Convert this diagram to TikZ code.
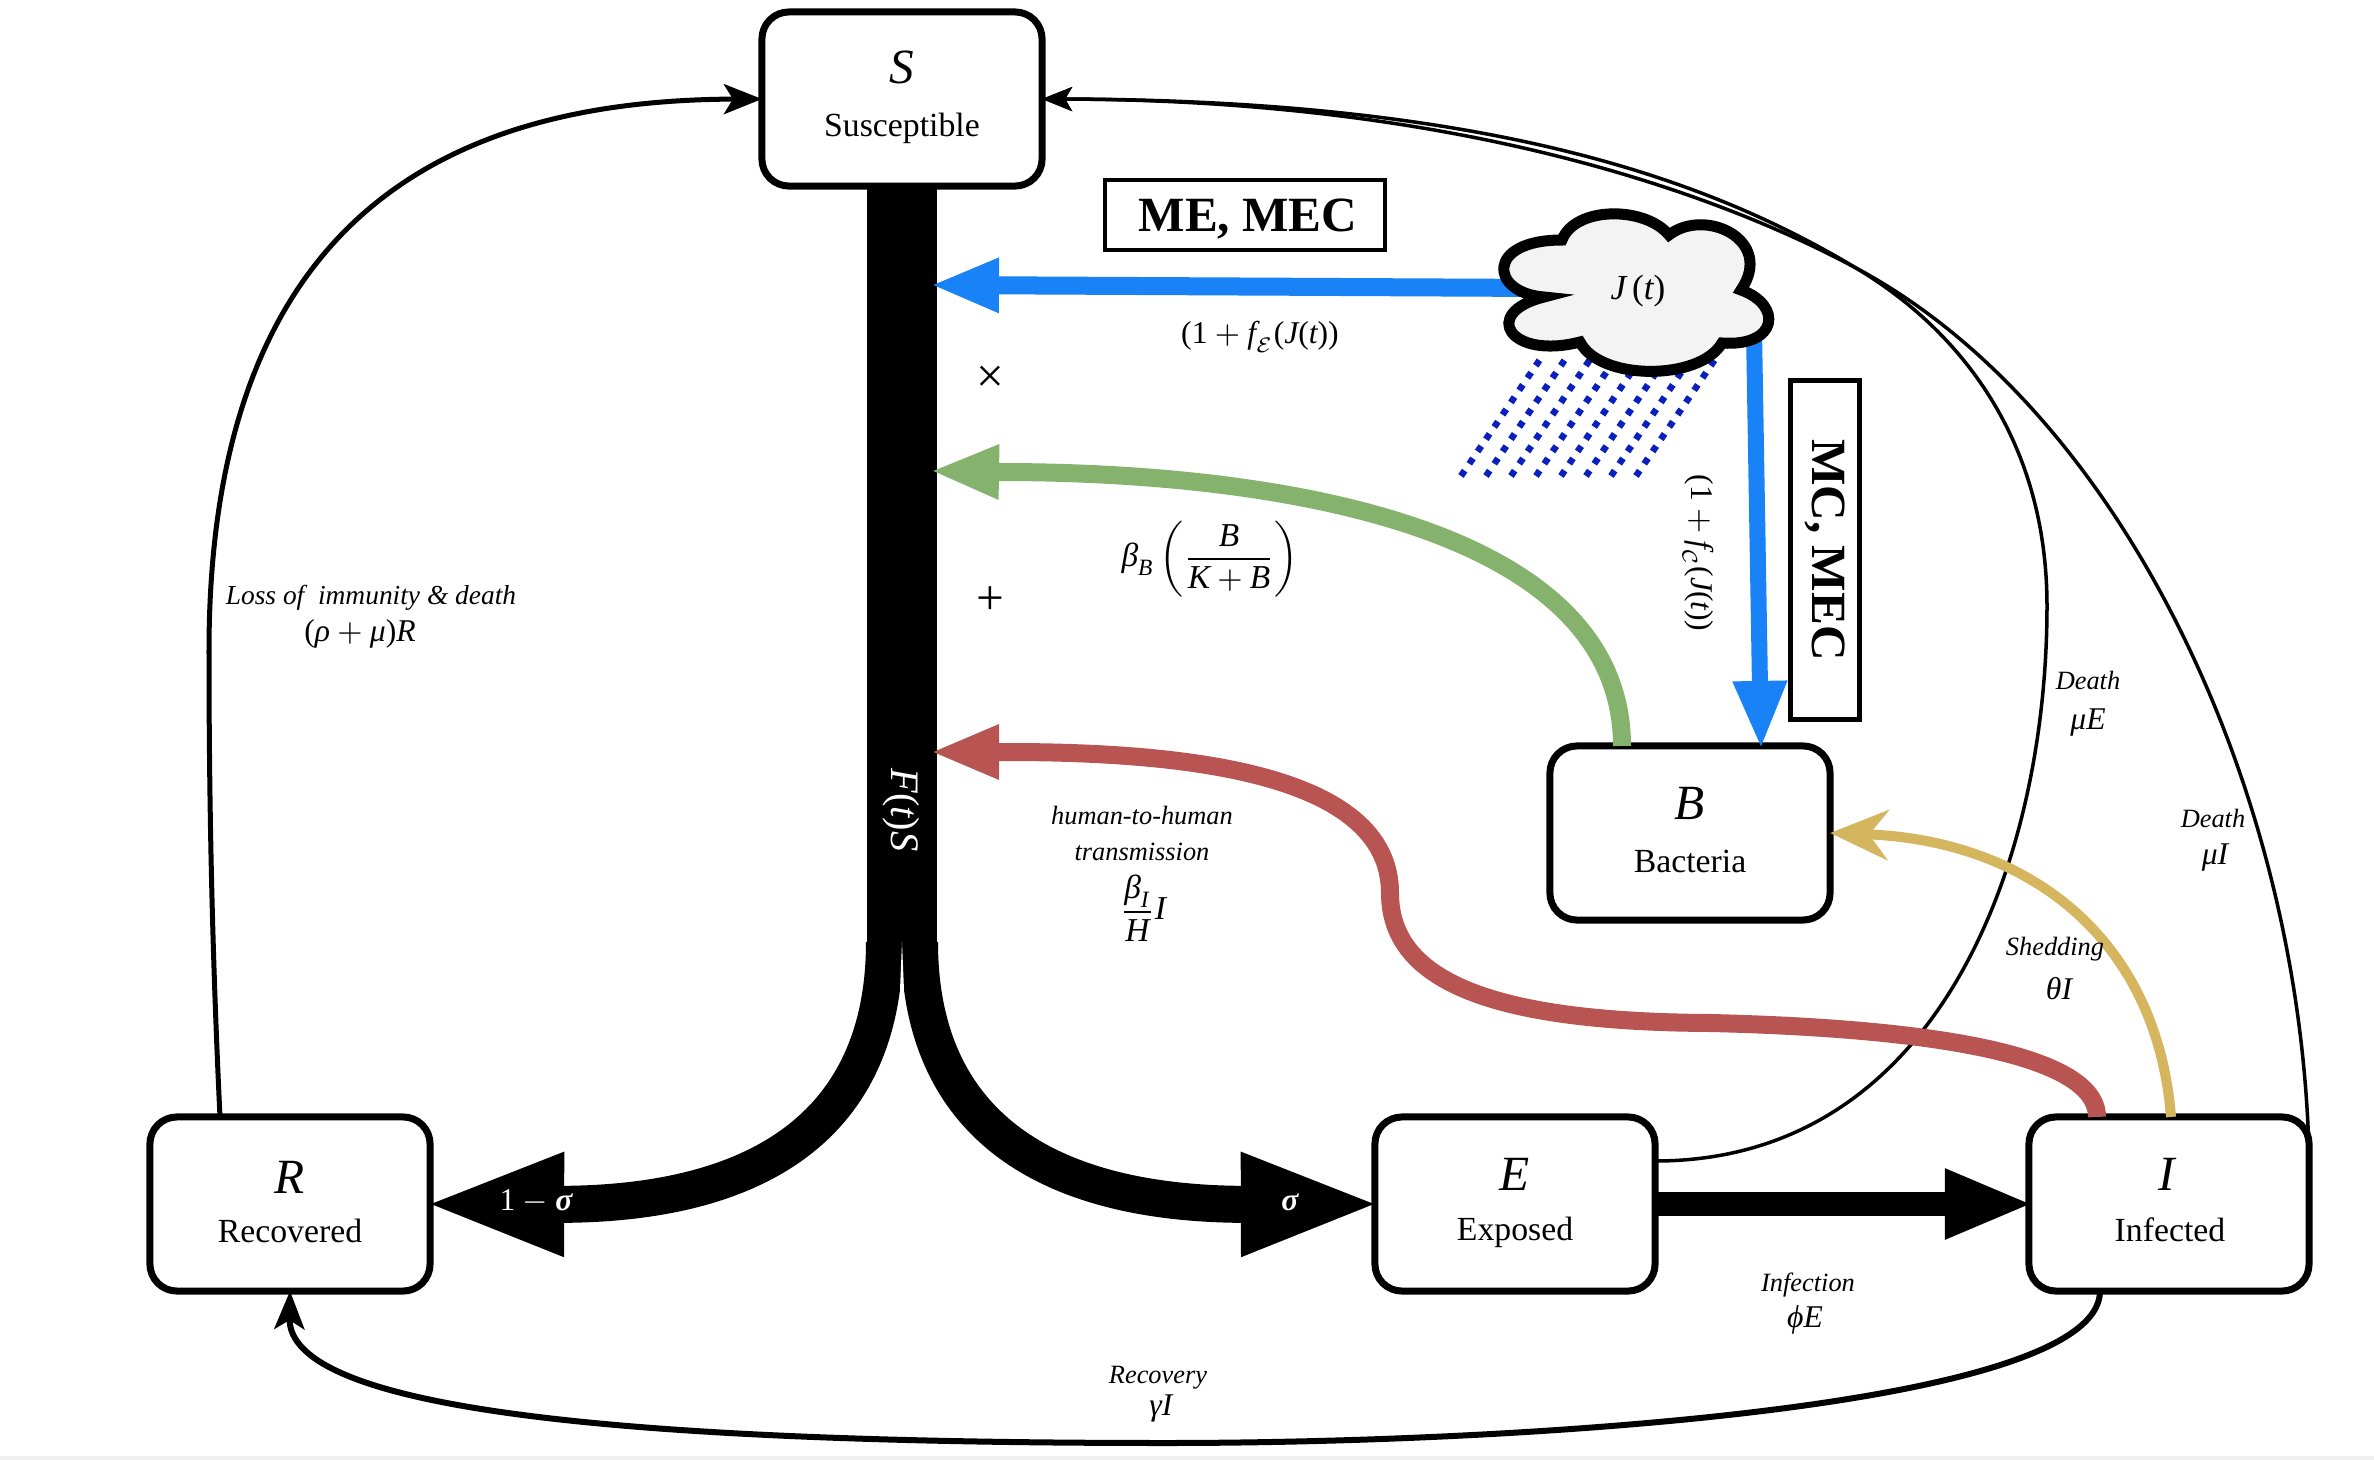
\documentclass[tikz,border=0pt]{standalone}
\usepackage{amsmath}
\usepackage{fontspec}
\setmainfont{Liberation Serif}
\usetikzlibrary{arrows.meta,calc}
\definecolor{blueflow}{HTML}{1A82F7}
\definecolor{greenflow}{HTML}{85B36D}
\definecolor{redflow}{HTML}{B85552}
\definecolor{goldflow}{HTML}{D5B65F}
\definecolor{raincol}{HTML}{0A20BE}
\definecolor{cloudfill}{HTML}{F3F3F3}
\newcommand{\vv}[1]{\text{\itshape #1}}
\newcommand{\fsz}[1]{\fontsize{#1}{#1}\selectfont}
\tikzset{
  x=0.01cm,y=-0.01cm,
  box/.style={draw,line width=.07cm,rounded corners=.27cm,minimum width=2.8cm,minimum height=1.74cm,inner sep=0pt,outer sep=0pt},
  symb/.style={font=\fsz{14}\itshape,inner sep=0pt},
  name lab/.style={font=\fsz{9.6},inner sep=0pt},
  tag/.style={draw,line width=.045cm,inner sep=0pt,outer sep=0pt,font=\fsz{14}\bfseries},
  flowlab/.style={font=\fsz{7.5}\itshape,inner sep=0pt},
  mathlab/.style={font=\fsz{9},inner sep=0pt},
  thinarr/.style={line width=.035cm,-{Stealth[length=.3cm,width=.24cm,inset=.07cm]}},
  medarr/.style={line width=.05cm,-{Stealth[length=.38cm,width=.3cm,inset=.09cm]}},
  bigblack/.style={line width=.37cm,shorten >=-.08cm,-{Triangle[length=1.42cm,width=.93cm]}},
  colarr/.style={line width=.18cm,shorten >=-.06cm,-{Triangle[length=.69cm,width=.5cm]}},
}
\begin{document}
\begin{tikzpicture}
\useasboundingbox (0,0) rectangle (2374,1460);
\fill[white] (0,0) rectangle (2374,1460);
\fill[black!6] (0,1456) rectangle (2374,1460);
% boxes
\node[box] (S) at (902,99) {};
\node[box] (R) at (290,1204) {};
\node[box] (E) at (1515,1204) {};
\node[box] (I) at (2169,1204) {};
\node[box] (B) at (1690,833) {};
\node[symb] (St) at (902,67) {S};
\node[name lab] (Sn) at (902,128) {Susceptible};
\node[symb] (Rt) at (290,1177) {R};
\node[name lab] (Rn) at (290,1231) {Recovered};
\node[symb] (Et) at (1515,1174) {E};
\node[name lab] (En) at (1515,1232) {Exposed};
\node[symb] (It) at (2167,1174) {I};
\node[name lab] (In) at (2170,1230) {Infected};
\node[symb] (Bt) at (1690,803) {B};
\node[name lab] (Bn) at (1690,861) {Bacteria};
\coordinate (fork) at (902,942);
% thin curved connectors
\draw[medarr] ($(R.north)+(-70,0)$) .. controls (212,950) and (209,800) .. (209,651) .. controls (209,212) and (454,100) .. (S.west);
\draw[thinarr] ($(E.east)+(0,-43)$) .. controls (1938,1161) and (2047,863) .. (2047,606) .. controls (2047,440) and (1960,330) .. (1856,268) .. controls (1716,184) and (1500,100) .. (S.east);
\draw[thinarr] ($(I.north east)+(0,40)$) .. controls (2301,787) and (2120,409) .. (1856,268) .. controls (1716,193) and (1460,100) .. (S.east);
\draw[medarr,line width=.06cm] ($(I.south)+(-69,0)$) .. controls (2100,1408) and (1514,1443) .. (1166,1443) .. controls (606,1443) and (288,1408) .. (R.south);
% trunk and branches
\draw[line width=.7cm] (S.south) -- (fork);
\draw[bigblack] ($(fork)+(-17.5,0)$) .. controls (884.5,1120) and (765,1205) .. (R.east);
\draw[bigblack] ($(fork)+(17.5,0)$) .. controls (919.5,1120) and (1040,1205) .. (E.west);
\fill[white] (fork) -- (900,990) -- (904,990) -- cycle;
\draw[line width=.24cm,shorten >=-.05cm,-{Triangle[length=.89cm,width=.64cm]}] (E.east) -- (I.west);
% rain
\foreach \i in {0,...,7}
  \draw[raincol,line width=.065cm,dash pattern=on .065cm off .083cm] ({1461+25*\i},476) -- ({1461+25*\i+80},358);
% coloured flows
\coordinate (cloudW) at (1545,288);
\coordinate (cloudS) at (1754,330);
\coordinate (tipBlue) at (936,285);
\coordinate (tipGreen) at (936,471);
\coordinate (tipRed) at (936,752);
\draw[colarr,blueflow] (cloudW) -- (tipBlue);
\draw[blueflow,line width=.16cm,shorten >=-.03cm,-{Triangle[length=.68cm,width=.5cm]}] (cloudS) -- ($(B.north)+(71,0)$);
\draw[colarr,greenflow] ($(B.north)+(-68,0)$) .. controls (1622,530) and (1287,472) .. (1000,472) -- (tipGreen);
\draw[colarr,redflow] ($(I.north)+(-72,0)$) .. controls (2097,1045) and (1877,1027) .. (1711,1023) .. controls (1499,1022) and (1390,984) .. (1390,893) .. controls (1390,772) and (1181,752) .. (1007,752) -- (tipRed);
\draw[goldflow,line width=.1cm,-{Stealth[length=.58cm,width=.5cm,inset=.19cm]}] ($(I.north)+(2,0)$) .. controls (2157,939) and (2029,840) .. (B.east);
% cloud
\draw[fill=cloudfill,line width=.11cm,line join=miter] (1544,297)
  .. controls (1490,293) and (1485,240) .. (1562,240)
  .. controls (1575,206) and (1645,206) .. (1669,235)
  .. controls (1705,207) and (1775,240) .. (1741,290)
  .. controls (1783,305) and (1778,347) .. (1722,343)
  .. controls (1700,381) and (1600,381) .. (1580,342)
  .. controls (1510,360) and (1480,313) .. cycle;
\node[inner sep=0pt,font=\fsz{10}] (Jt) at (1638,291) {$\vv{J}\,\text{(}\vv{t}\text{)}$};
% tags
\node[tag,minimum width=2.8cm,minimum height=.7cm,text depth=0pt] (ME) at (1245,215) {\hspace*{.06cm}ME, MEC};
\node[tag,minimum width=3.39cm,minimum height=.69cm,rotate=-90] (MC) at (1825,550) {MC, MEC};
% labels
\node[mathlab] (l1) at (1260,337) {$\text{(1}+\vv{f}_{\mathcal{E}}\text{(}\vv{J}\text{(}\vv{t}\text{))}$};
\node[mathlab,rotate=-90] (l2) at (1698,553) {$\text{(1}+\vv{f}_{\mathcal{C}}\text{(}\vv{J}\text{(}\vv{t}\text{))}$};
\node[font=\fsz{14},inner sep=0pt] (tm) at (990,379) {×};
\node[font=\fsz{14},inner sep=0pt] (pl) at (990,601) {+};
\node[mathlab,font=\fsz{9.5}] (l3) at (1210,559) {$\vv{β}_{\vv{B}}\left(\dfrac{\vv{B}}{\vv{K}+\vv{B}}\right)$};
\node[inner sep=0pt,font=\fsz{11.5},text=white,rotate=-90] (Ft) at (901,810) {$\vv{F}\text{(}\vv{t}\text{)}\vv{S}$};
\node[flowlab] (h1) at (1142,815) {human-to-human};
\node[flowlab] (h2) at (1142,852) {transmission};
\node[mathlab,font=\fsz{9.5}] (h3) at (1143,908) {$\dfrac{\vv{β}_{\vv{I}}}{\vv{H}}\vv{I}$};
\node[flowlab] (d1) at (2088,680) {Death};
\node[mathlab] (d2) at (2088,723) {$\vv{μE}$};
\node[flowlab] (d3) at (2213,818) {Death};
\node[mathlab] (d4) at (2215,858) {$\vv{μI}$};
\node[flowlab] (s1) at (2055,949) {Shedding};
\node[mathlab] (s2) at (2059,989) {$\vv{θI}$};
\node[flowlab] (f1) at (1808,1285) {Infection};
\node[mathlab] (f2) at (1805,1320) {$\vv{ϕE}$};
\node[flowlab] (r1) at (1158,1378) {Recovery};
\node[mathlab] (r2) at (1161,1408) {$\vv{γI}$};
\node[flowlab,font=\fsz{7.8}\itshape] (ls1) at (371,598) {Loss of\ \ immunity \& death};
\node[mathlab] (ls2) at (360,634) {$\text{(}\vv{ρ}+\vv{μ}\text{)}\vv{R}$};
\node[mathlab,text=white] (a1) at (536,1202) {$\text{1}-\vv{\bfseries σ}$};
\node[mathlab,text=white] (a2) at (1290,1202) {$\vv{\bfseries σ}$};
\end{tikzpicture}
\end{document}
